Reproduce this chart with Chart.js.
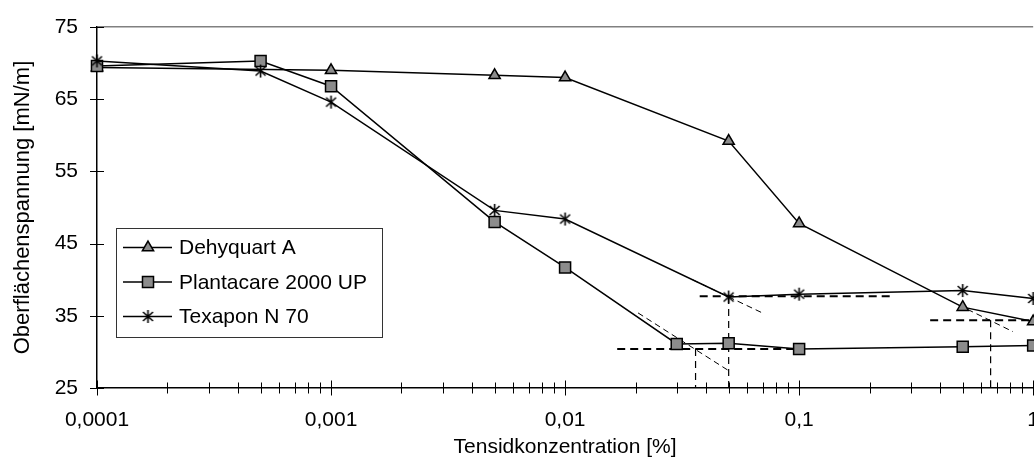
<!DOCTYPE html>
<html>
<head>
<meta charset="utf-8">
<script src="https://cdn.jsdelivr.net/npm/chart.js@4.4.0/dist/chart.umd.min.js"></script>
<style>
  html, body { margin: 0; padding: 0; background: #fff; overflow: hidden; width: 1034px; height: 465px; }
  canvas { display: block; }
</style>
</head>
<body>
<!-- canvas is a bit wider than the window so the "1" label gets cut at the edge like in the original -->
<canvas id="chart" width="1059" height="465" style="width:1059px;height:465px"></canvas>
<script>
// measured series (concentration in %, surface tension in mN/m)
const dehyquartX = [0.0001, 0.001, 0.005, 0.01, 0.05, 0.1, 0.5, 1];
const dehyquartY = [69.4, 69.0, 68.3, 68.0, 59.2, 47.8, 36.2, 34.2];

const plantacareX = [0.0001, 0.0005, 0.001, 0.005, 0.01, 0.03, 0.05, 0.1, 0.5, 1];
const plantacareY = [69.6, 70.3, 66.8, 48.0, 41.7, 31.1, 31.2, 30.4, 30.7, 30.9];

const texaponX = [0.0001, 0.0005, 0.001, 0.005, 0.01, 0.05, 0.1, 0.5, 1];
const texaponY = [70.3, 68.9, 64.6, 49.6, 48.4, 37.6, 38.0, 38.5, 37.4];

// CMC construction lines: [x1, y1, x2, y2]
const plateauLines = [
  [0.0167, 30.4, 0.097, 30.4],
  [0.0376, 37.7, 0.256, 37.7],
  [0.363, 34.4, 1, 34.4]
];
const slopeLines = [
  [0.0205, 35.4, 0.05, 27.4],
  [0.035, 40.0, 0.0707, 35.3],
  [0.48, 36.5, 0.82, 32.8]
];
const dropLines = [
  [0.0361, 30.4, 0.0361, 25],
  [0.05, 37.6, 0.05, 25],
  [0.658, 34.4, 0.658, 25]
];

const xTickValues = [0.0001, 0.001, 0.01, 0.1, 1];
const xTickLabels = ['0,0001', '0,001', '0,01', '0,1', '1'];
const seriesNames = ['Dehyquart A', 'Plantacare 2000 UP', 'Texapon N 70'];

Chart.defaults.font.family = "'Liberation Sans', Arial, sans-serif";
Chart.defaults.color = '#000';

const toPoints = (xs, ys) => xs.map((x, i) => ({ x: x, y: ys[i] }));

// asterisk marker like the old spreadsheet one
function makeAsterisk() {
  const c = document.createElement('canvas');
  c.width = 15; c.height = 15;
  const g = c.getContext('2d');
  g.strokeStyle = '#000';
  g.lineWidth = 1.6;
  g.beginPath();
  g.moveTo(7.5, 1); g.lineTo(7.5, 14);
  g.moveTo(2.5, 3); g.lineTo(12.5, 12);
  g.moveTo(12.5, 3); g.lineTo(2.5, 12);
  g.stroke();
  return c;
}
const asterisk = makeAsterisk();

const grey = '#8c8c8c';
const seriesStyle = {
  borderColor: '#000', borderWidth: 1.5,
  pointBackgroundColor: grey, pointBorderColor: '#000', pointBorderWidth: 1.5,
  tension: 0, clip: false
};

function helperSet(seg, width, dash) {
  return {
    data: [{ x: seg[0], y: seg[1] }, { x: seg[2], y: seg[3] }],
    borderColor: '#000', borderWidth: width, borderDash: dash,
    pointRadius: 0, clip: false, order: 5
  };
}

// order: lower number is painted on top (Dehyquart sits under the others)
const datasets = [
  Object.assign({ label: seriesNames[0], data: toPoints(dehyquartX, dehyquartY), pointStyle: 'triangle', pointRadius: 6.5, order: 3 }, seriesStyle),
  Object.assign({ label: seriesNames[1], data: toPoints(plantacareX, plantacareY), pointStyle: 'rect', pointRadius: 7.8, order: 2 }, seriesStyle),
  Object.assign({ label: seriesNames[2], data: toPoints(texaponX, texaponY), pointStyle: asterisk, pointRadius: 7, order: 1 }, seriesStyle)
];
plateauLines.forEach(s => datasets.push(helperSet(s, 2, [8, 5])));
slopeLines.forEach(s => datasets.push(helperSet(s, 1, [6, 4])));
dropLines.forEach(s => datasets.push(helperSet(s, 1.2, [7, 5])));

// cross-style tick marks on both axes
const crossTicks = {
  id: 'crossTicks',
  beforeDatasetsDraw(chart) {
    const { ctx, scales: { x, y } } = chart;
    ctx.save();
    ctx.strokeStyle = '#000';
    ctx.lineWidth = 1;
    ctx.beginPath();
    y.ticks.forEach(t => {
      const py = Math.round(y.getPixelForValue(t.value)) + 0.5;
      ctx.moveTo(x.left - 7, py); ctx.lineTo(x.left + 7, py);
    });
    const base = y.bottom;
    for (let e = -4; e <= 0; e++) {
      for (let m = 1; m <= 9; m++) {
        const v = m * Math.pow(10, e);
        if (v > 1) break;
        const px = Math.round(x.getPixelForValue(v)) + 0.5;
        const len = m === 1 ? 7.5 : 5.5;
        ctx.moveTo(px, base - len); ctx.lineTo(px, base + len);
      }
    }
    ctx.stroke();
    ctx.restore();
  }
};

// legend box inside the plot, lower left
const boxLegend = {
  id: 'boxLegend',
  afterDraw(chart) {
    const { ctx, chartArea: a } = chart;
    const left = a.left + 19, top = a.top + 201, w = 266, h = 109;
    ctx.save();
    ctx.fillStyle = '#fff';
    ctx.fillRect(left, top, w, h);
    ctx.strokeStyle = '#333';
    ctx.lineWidth = 1;
    ctx.strokeRect(left + 0.5, top + 0.5, w, h);
    ctx.font = "21px 'Liberation Sans', Arial, sans-serif";
    ctx.textBaseline = 'middle';
    for (let i = 0; i < 3; i++) {
      const ds = chart.data.datasets[i];
      const cy = top + 19.5 + i * 34.5;
      ctx.strokeStyle = '#000';
      ctx.lineWidth = 1.5;
      ctx.beginPath();
      ctx.moveTo(left + 7, cy); ctx.lineTo(left + 56, cy);
      ctx.stroke();
      ctx.fillStyle = grey;
      ctx.strokeStyle = '#000';
      ctx.lineWidth = 1.5;
      Chart.helpers.drawPoint(ctx, { pointStyle: ds.pointStyle, radius: ds.pointRadius, rotation: 0, borderWidth: 1.5 }, left + 32, cy);
      ctx.fillStyle = '#000';
      ctx.fillText(ds.label, left + 63, cy + 1);
    }
    ctx.restore();
  }
};

new Chart(document.getElementById('chart'), {
  type: 'line',
  data: { datasets: datasets },
  options: {
    responsive: false,
    animation: false,
    events: [],
    layout: { padding: { top: 27, right: 0, bottom: 0, left: 0 } },
    plugins: { legend: { display: false }, tooltip: { enabled: false } },
    scales: {
      x: {
        type: 'logarithmic',
        min: 0.0001,
        max: 1,
        afterBuildTicks: s => { s.ticks = xTickValues.map(v => ({ value: v })); },
        afterFit: s => { s.height = 77; },
        ticks: {
          autoSkip: false, maxRotation: 0, padding: 20,
          font: { size: 21 },
          callback: (v, i) => xTickLabels[i]
        },
        grid: { display: false, tickLength: 0 },
        border: { color: '#000', width: 1.5 },
        title: { display: true, text: 'Tensidkonzentration [%]', font: { size: 21 }, padding: { top: 0, bottom: 5 } }
      },
      y: {
        min: 25,
        max: 75,
        afterFit: s => { s.width = 97; },
        ticks: { stepSize: 10, padding: 0, font: { size: 21 } },
        grid: {
          tickLength: 19,
          tickColor: 'rgba(0,0,0,0)',
          lineWidth: 1.5,
          color: c => (c.tick && c.tick.value === 75 ? '#808080' : 'rgba(0,0,0,0)')
        },
        border: { color: '#000', width: 1.5 },
        title: { display: true, text: 'Oberflächenspannung [mN/m]', font: { size: 22 }, padding: { top: 10, bottom: 0 } }
      }
    }
  },
  plugins: [crossTicks, boxLegend]
});
</script>
</body>
</html>
